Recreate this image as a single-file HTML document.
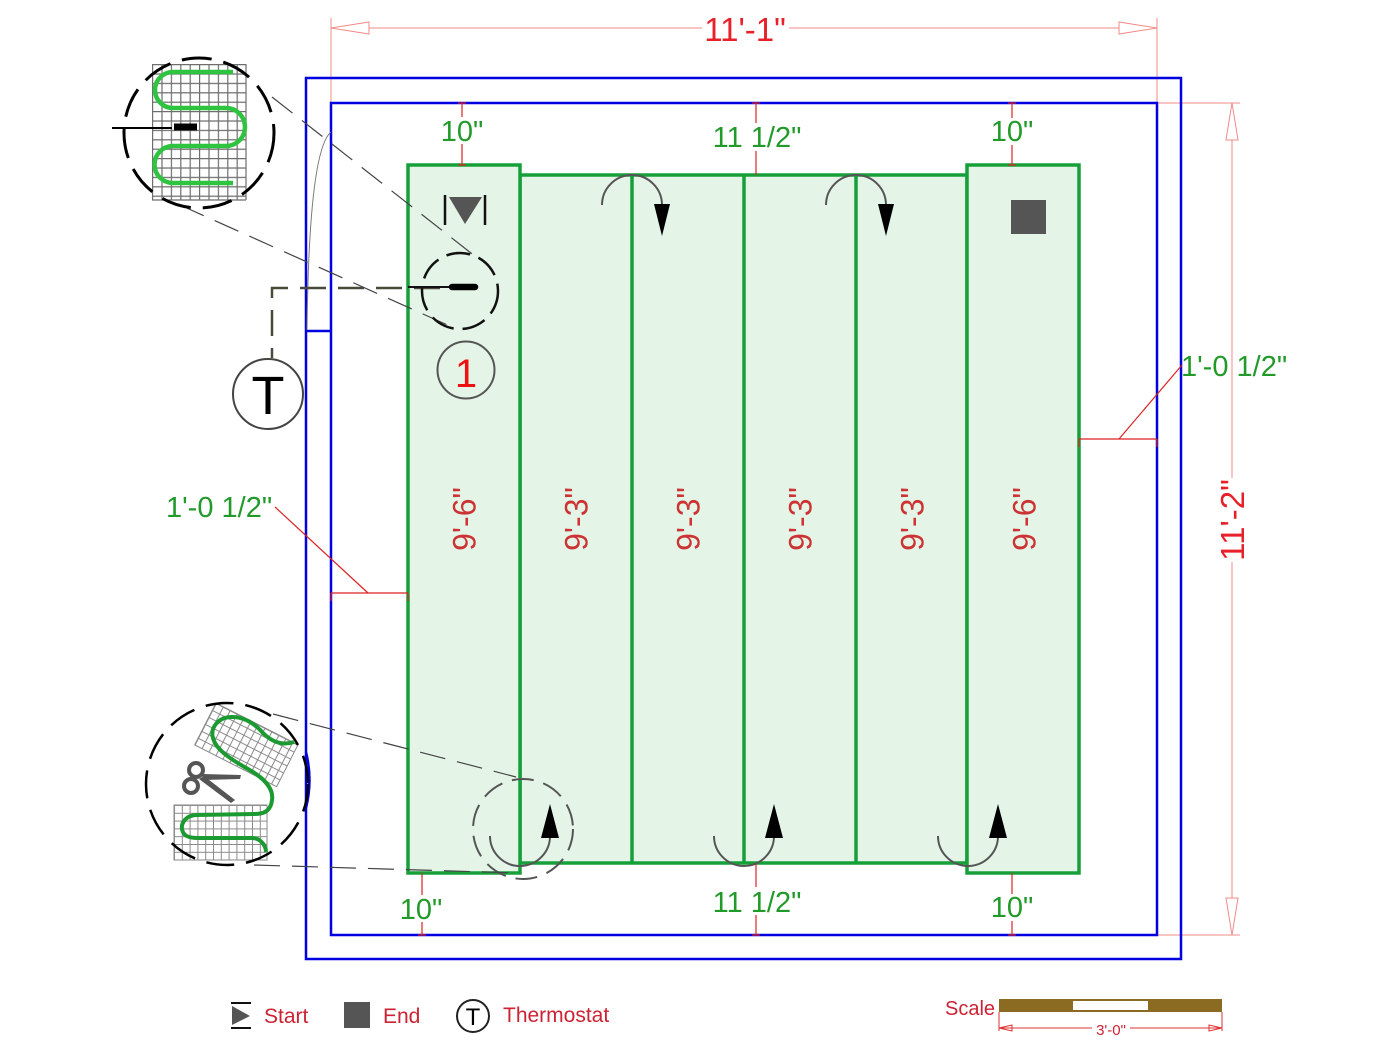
<!DOCTYPE html>
<html>
<head>
<meta charset="utf-8">
<style>
html,body{margin:0;padding:0;background:#fff;}
svg{display:block;}
</style>
</head>
<body>
<svg width="1400" height="1049" viewBox="0 0 1400 1049" xmlns="http://www.w3.org/2000/svg" font-family="'Liberation Sans', Arial, sans-serif">
<defs>
  <pattern id="g1" x="152" y="64" width="9.4" height="9.4" patternUnits="userSpaceOnUse">
    <path d="M0.6,0 V9.4 M0,0.6 H9.4" stroke="#6e6e6e" stroke-width="1.2" fill="none"/>
  </pattern>
  <pattern id="g2" x="174" y="805" width="7.8" height="7.8" patternUnits="userSpaceOnUse">
    <path d="M0.5,0 V7.8 M0,0.5 H7.8" stroke="#8a8a8a" stroke-width="1" fill="none"/>
  </pattern>
  <pattern id="g3" x="0" y="0" width="7.8" height="7.8" patternUnits="userSpaceOnUse">
    <path d="M0.5,0 V7.8 M0,0.5 H7.8" stroke="#8a8a8a" stroke-width="1" fill="none"/>
  </pattern>
</defs>

<!-- ===== Top dimension 11'-1" ===== -->
<g stroke="#f08a8a" stroke-width="1" fill="none">
  <line x1="331" y1="18" x2="331" y2="103"/>
  <line x1="1157" y1="18" x2="1157" y2="103"/>
  <line x1="331" y1="28" x2="702" y2="28"/>
  <line x1="789" y1="28" x2="1157" y2="28"/>
  <polygon points="331,28 369,22 369,34" fill="#fff"/>
  <polygon points="1157,28 1119,22 1119,34" fill="#fff"/>
  <!-- right dimension 11'-2" -->
  <line x1="1157" y1="103" x2="1240" y2="103"/>
  <line x1="1157" y1="935" x2="1240" y2="935"/>
  <line x1="1232" y1="103" x2="1232" y2="478"/>
  <line x1="1232" y1="562" x2="1232" y2="935"/>
  <polygon points="1232,103 1226,140 1238,140" fill="#fff"/>
  <polygon points="1232,935 1226,898 1238,898" fill="#fff"/>
</g>
<text x="745" y="41" font-size="33" fill="#e8202a" text-anchor="middle">11'-1"</text>
<text transform="translate(1244,520) rotate(-90)" font-size="33" fill="#e8202a" text-anchor="middle">11'-2"</text>

<!-- ===== Walls ===== -->
<g fill="none" stroke="#0000e0" stroke-width="2.5">
  <rect x="306" y="78" width="875" height="881"/>
  <rect x="331" y="103" width="826" height="832"/>
  <line x1="306" y1="331" x2="331" y2="331"/>
  <path d="M306,752 Q313,780 306,808"/>
</g>
<!-- door swing -->
<path d="M331,132 Q309,150 307,330" fill="none" stroke="#777" stroke-width="1"/>

<!-- ===== Panels ===== -->
<g fill="#e4f4e7" stroke="#17a03a" stroke-width="3.5">
  <rect x="520" y="175" width="447" height="688"/>
  <rect x="408" y="165" width="112" height="708"/>
  <rect x="967" y="165" width="112" height="708"/>
  <line x1="632" y1="175" x2="632" y2="863"/>
  <line x1="744" y1="175" x2="744" y2="863"/>
  <line x1="856" y1="175" x2="856" y2="863"/>
</g>

<!-- ===== Small dimension ticks ===== -->
<g stroke="#dd2222" stroke-width="1.2" fill="none">
  <line x1="462" y1="103" x2="462" y2="117"/><line x1="462" y1="144" x2="462" y2="165"/>
  <line x1="458" y1="103" x2="466" y2="103"/><line x1="458" y1="165" x2="466" y2="165"/>
  <line x1="756" y1="103" x2="756" y2="123"/><line x1="756" y1="151" x2="756" y2="175"/>
  <line x1="752" y1="103" x2="760" y2="103"/>
  <line x1="1012" y1="103" x2="1012" y2="118"/><line x1="1012" y1="145" x2="1012" y2="165"/>
  <line x1="1008" y1="103" x2="1016" y2="103"/><line x1="1008" y1="165" x2="1016" y2="165"/>
  <line x1="422" y1="873" x2="422" y2="895"/><line x1="422" y1="922" x2="422" y2="935"/>
  <line x1="418" y1="935" x2="426" y2="935"/>
  <line x1="756" y1="863" x2="756" y2="887"/><line x1="756" y1="915" x2="756" y2="935"/>
  <line x1="752" y1="935" x2="760" y2="935"/>
  <line x1="1012" y1="873" x2="1012" y2="894"/><line x1="1012" y1="921" x2="1012" y2="935"/>
  <line x1="1008" y1="935" x2="1016" y2="935"/>
  <!-- left 1'-0 1/2 -->
  <line x1="331" y1="593" x2="408" y2="593"/>
  <line x1="331" y1="593" x2="331" y2="601"/><line x1="408" y1="593" x2="408" y2="601"/>
  <line x1="368" y1="593" x2="275" y2="507"/>
  <!-- right 1'-0 1/2 -->
  <line x1="1079" y1="439" x2="1157" y2="439"/>
  <line x1="1079" y1="439" x2="1079" y2="447"/><line x1="1157" y1="439" x2="1157" y2="447"/>
  <line x1="1119" y1="439" x2="1182" y2="365"/>
</g>

<g fill="#229a2a" font-size="29" text-anchor="middle">
  <text x="462" y="141">10"</text>
  <text x="757" y="147">11 1/2"</text>
  <text x="1012" y="141">10"</text>
  <text x="421" y="919">10"</text>
  <text x="757" y="912">11 1/2"</text>
  <text x="1012" y="917">10"</text>
  <text x="166" y="517" text-anchor="start">1'-0 1/2"</text>
  <text x="1181" y="376" text-anchor="start">1'-0 1/2"</text>
</g>

<!-- ===== Panel length labels ===== -->
<g fill="#cc3333" font-size="32" text-anchor="middle">
  <text transform="translate(475.5,519) rotate(-90)">9'-6"</text>
  <text transform="translate(587.5,519) rotate(-90)">9'-3"</text>
  <text transform="translate(699.5,519) rotate(-90)">9'-3"</text>
  <text transform="translate(811.5,519) rotate(-90)">9'-3"</text>
  <text transform="translate(923.5,519) rotate(-90)">9'-3"</text>
  <text transform="translate(1035.5,519) rotate(-90)">9'-6"</text>
</g>

<!-- ===== Start / End markers ===== -->
<g stroke="#111" stroke-width="2.5">
  <line x1="445" y1="195" x2="445" y2="225"/>
  <line x1="485" y1="195" x2="485" y2="225"/>
</g>
<polygon points="449,197 482,197 465,224" fill="#555"/>
<rect x="1011" y="200" width="35" height="34" fill="#555"/>

<!-- ===== Turn arrows ===== -->
<g fill="none" stroke="#555" stroke-width="2">
  <path d="M602,205 A30,30 0 0 1 662,205"/>
  <path d="M826,205 A30,30 0 0 1 886,205"/>
  <path d="M490,836 A30,30 0 0 0 550,836"/>
  <path d="M714,836 A30,30 0 0 0 774,836"/>
  <path d="M938,836 A30,30 0 0 0 998,836"/>
</g>
<g fill="#000">
  <polygon points="654,204 670,204 662,236"/>
  <polygon points="878,204 894,204 886,236"/>
  <polygon points="550,804 541,838 559,838"/>
  <polygon points="774,804 765,838 783,838"/>
  <polygon points="998,804 989,838 1007,838"/>
</g>
<!-- bottom detail dashed circle -->
<circle cx="523" cy="829" r="50" fill="none" stroke="#555" stroke-width="2" stroke-dasharray="22 10"/>

<!-- ===== Leader dashed lines ===== -->
<g stroke="#444" stroke-width="1.2" stroke-dasharray="26 12" fill="none">
  <line x1="272" y1="97" x2="476" y2="257"/>
  <line x1="180" y1="205" x2="452" y2="327"/>
  <line x1="273" y1="714" x2="516" y2="777"/>
  <line x1="254" y1="865" x2="518" y2="873"/>
</g>

<!-- ===== Thermostat wire ===== -->
<path d="M440,288 H272 V358" fill="none" stroke="#4a4a3a" stroke-width="2.5" stroke-dasharray="26 12"/>
<circle cx="268" cy="394" r="35" fill="#fff" stroke="#444" stroke-width="2"/>
<text x="268" y="414" font-size="54" fill="#000" text-anchor="middle">T</text>

<!-- small detail circle on start -->
<circle cx="460" cy="291" r="38" fill="none" stroke="#111" stroke-width="2.5" stroke-dasharray="24 9"/>
<line x1="408" y1="287" x2="452" y2="287" stroke="#111" stroke-width="2"/>
<line x1="452" y1="287" x2="475" y2="287" stroke="#000" stroke-width="6.5" stroke-linecap="round"/>

<!-- zone number -->
<circle cx="466" cy="370" r="28.5" fill="none" stroke="#555" stroke-width="2"/>
<text x="466" y="387" font-size="40" fill="#ee1111" text-anchor="middle">1</text>

<!-- ===== Top-left detail ===== -->
<rect x="152" y="64" width="94" height="136" fill="url(#g1)"/>
<line x1="246" y1="64" x2="246" y2="200" stroke="#6e6e6e" stroke-width="1.2"/>
<line x1="152" y1="200" x2="246" y2="200" stroke="#6e6e6e" stroke-width="1.2"/>
<path d="M233,72 H173 A18,18 0 0 0 173,108 H226 A19,19 0 0 1 226,146 H173 A18.5,18.5 0 0 0 173,183 H233" fill="none" stroke="#2ec43f" stroke-width="4.5"/>
<line x1="112" y1="128" x2="172" y2="128" stroke="#000" stroke-width="2"/>
<line x1="174" y1="127" x2="197" y2="127" stroke="#000" stroke-width="7"/>
<circle cx="199" cy="133" r="75" fill="none" stroke="#000" stroke-width="3" stroke-dasharray="30 12"/>

<!-- ===== Bottom-left detail ===== -->
<g transform="translate(216,703) rotate(27)">
  <rect x="0" y="0" width="92" height="47" fill="url(#g3)"/>
  <rect x="0" y="0" width="92" height="47" fill="none" stroke="#8a8a8a" stroke-width="1"/>
</g>
<rect x="174" y="805" width="93" height="55" fill="url(#g2)"/>
<rect x="174" y="805" width="93" height="55" fill="none" stroke="#8a8a8a" stroke-width="1"/>
<path d="M294,742 C282,746 272,742 263,733 C255,724 245,717 232,717 C218,717 210,728 213,738 C216,750 232,760 248,769 C262,777 274,787 272,800 C271,810 265,814 255,814 L197,815 C186,815 181,823 182,829 C183,836 189,838 198,838 L252,838 C260,838 266,845 266,852" fill="none" stroke="#1a9a30" stroke-width="4"/>
<!-- scissors -->
<g fill="none" stroke="#555" stroke-width="4">
  <circle cx="196" cy="770" r="7"/>
  <circle cx="191" cy="786" r="7"/>
</g>
<polygon points="202,774 241,775 240,779 203,780" fill="#555"/>
<polygon points="199,779 204,776 235,800 231,803" fill="#555"/>
<circle cx="227" cy="784" r="81" fill="none" stroke="#000" stroke-width="2.5" stroke-dasharray="28 12"/>

<!-- ===== Legend ===== -->
<g stroke="#111" stroke-width="2">
  <line x1="231" y1="1003" x2="251" y2="1003"/>
  <line x1="231" y1="1028" x2="251" y2="1028"/>
</g>
<polygon points="232,1006 232,1025 250,1016" fill="#555"/>
<text x="264" y="1023" font-size="21" fill="#cc2233">Start</text>
<rect x="344" y="1002" width="26" height="26" fill="#555"/>
<text x="383" y="1023" font-size="21" fill="#cc2233">End</text>
<circle cx="473" cy="1016" r="16" fill="none" stroke="#222" stroke-width="2"/>
<text x="473" y="1025" font-size="24" fill="#000" text-anchor="middle">T</text>
<text x="503" y="1022" font-size="21" fill="#cc2233">Thermostat</text>

<!-- ===== Scale ===== -->
<text x="945" y="1015" font-size="20" fill="#cc2233">Scale</text>
<rect x="999" y="999" width="223" height="13" fill="#8b6b22"/>
<rect x="1073" y="1001" width="75" height="9" fill="#fff"/>
<g stroke="#dd3333" stroke-width="1" fill="none">
  <line x1="999" y1="1012" x2="999" y2="1031"/>
  <line x1="1222" y1="1012" x2="1222" y2="1031"/>
  <line x1="999" y1="1028" x2="1092" y2="1028"/>
  <line x1="1130" y1="1028" x2="1222" y2="1028"/>
  <polygon points="999,1028 1012,1025 1012,1031"/>
  <polygon points="1222,1028 1209,1025 1209,1031"/>
</g>
<text x="1111" y="1035" font-size="15" fill="#cc2233" text-anchor="middle">3'-0"</text>
</svg>
</body>
</html>
